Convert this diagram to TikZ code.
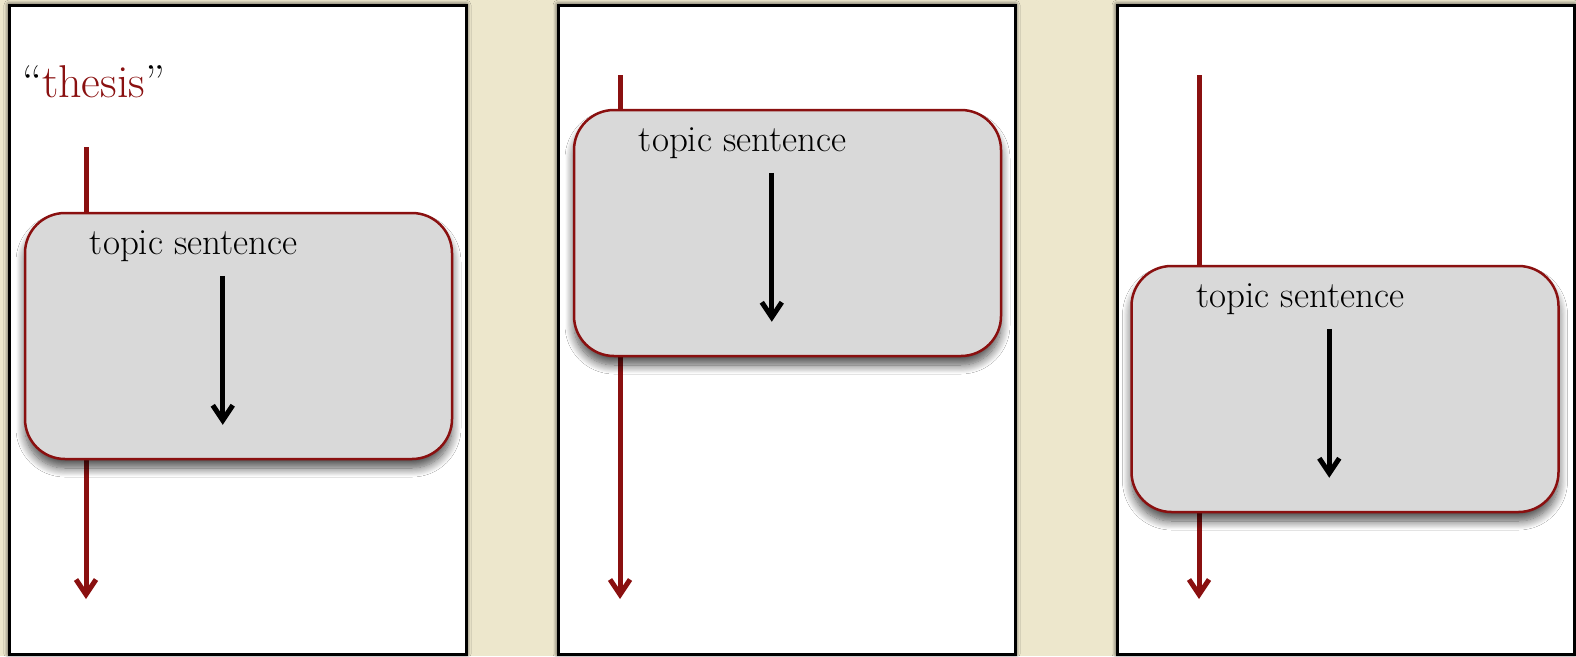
\documentclass[tikz,border=0pt]{standalone}
\usepackage{tikz}
\usepackage{xcolor}
\usetikzlibrary{arrows.meta, positioning, calc, shadows.blur}
\definecolor{paperBeige}{RGB}{237, 231, 204}
\definecolor{thesisRed}{RGB}{138, 16, 16}
\definecolor{boxGray}{RGB}{217, 217, 217}

\tikzset{
  page/.style={draw=black, line width=3pt, fill=white, minimum width=457pt, minimum height=649pt,
    blur shadow={shadow xshift=0pt, shadow yshift=0pt, shadow blur radius=5pt,
      shadow blur steps=10, shadow opacity=85}},
  parabox/.style={draw=thesisRed, line width=2.5pt, fill=boxGray, rounded corners=40pt,
    minimum width=427pt, minimum height=246pt,
    blur shadow={shadow xshift=0pt, shadow yshift=-9pt, shadow blur radius=9pt,
      shadow blur steps=12, shadow opacity=70}},
  topic/.style={font=\fontsize{37}{40}\selectfont, anchor=base west, inner sep=0pt},
  thesisline/.style={draw=thesisRed, line width=5pt, -{Straight Barb[length=15pt, width=20pt, line width=5pt]}},
  paraline/.style={draw=black, line width=5pt, -{Straight Barb[length=15pt, width=20pt, line width=5pt]}},
}

\begin{document}
\begin{tikzpicture}[x=1pt, y=-1pt]
    \fill[paperBeige] (0,0) rectangle (1576,656);
    \useasboundingbox (0,0) rectangle (1576,656);

    % three pages
    \node[page] (page1) at (237.5,329.5) {};
    \node[page] (page2) at (786.5,329.5) {};
    \node[page] (page3) at (1345.5,329.5) {};

    % first page: thesis
    \node[font=\fontsize{46}{50}\selectfont, anchor=base west, inner sep=0pt] (thesis) at (22,97)
        {“\textcolor{thesisRed}{thesis}”};

    \coordinate (t1) at (86,147);
    \coordinate (e1) at (86,599);
    \draw[thesisline] (t1) -- (e1);
    \node[parabox] (box1) at (238.5,336) {};
    \node[topic] (ts1) at ([shift={(66,43)}]box1.north west) {topic sentence};
    \draw[paraline] ([shift={(199,64)}]box1.north west) -- ([shift={(199,213)}]box1.north west);

    % second page
    \coordinate (t2) at (620,75);
    \coordinate (e2) at (620,599);
    \draw[thesisline] (t2) -- (e2);
    \node[parabox] (box2) at (787.5,233) {};
    \node[topic] (ts2) at ([shift={(66,43)}]box2.north west) {topic sentence};
    \draw[paraline] ([shift={(199,64)}]box2.north west) -- ([shift={(199,213)}]box2.north west);

    % third page
    \coordinate (t3) at (1199,75);
    \coordinate (e3) at (1199,599);
    \draw[thesisline] (t3) -- (e3);
    \node[parabox] (box3) at (1345,389) {};
    \node[topic] (ts3) at ([shift={(66,43)}]box3.north west) {topic sentence};
    \draw[paraline] ([shift={(199,64)}]box3.north west) -- ([shift={(199,213)}]box3.north west);
\end{tikzpicture}
\end{document}
